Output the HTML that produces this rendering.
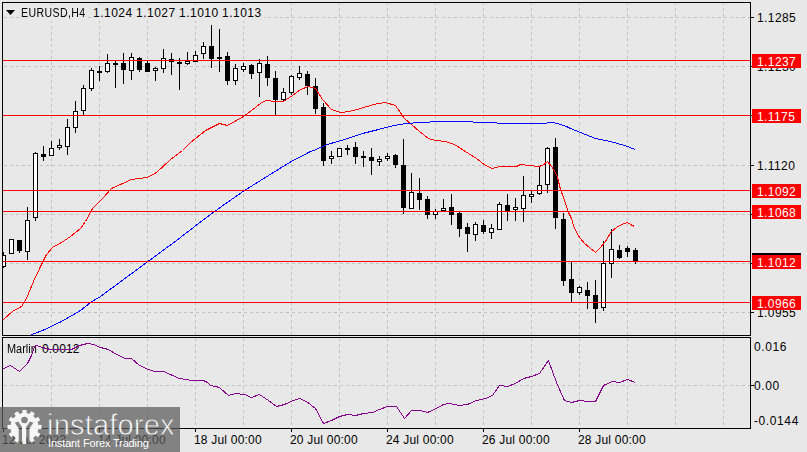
<!DOCTYPE html>
<html><head><meta charset="utf-8"><style>
html,body{margin:0;padding:0;}
body{width:807px;height:452px;overflow:hidden;background:#e8e8e8;position:relative;font-family:"Liberation Sans",sans-serif;}
svg.main{position:absolute;left:0;top:0;}
.ax{position:absolute;left:757px;font-size:12px;line-height:14px;letter-spacing:0.4px;margin-top:1px;color:#000;white-space:nowrap;}
.rl{position:absolute;left:752px;width:49px;height:14px;background:#ff0000;color:#fff;font-size:12px;line-height:15px;letter-spacing:0.4px;text-indent:5px;padding-top:1px;height:13px;white-space:nowrap;}
.tl{position:absolute;top:433px;font-size:12px;line-height:14px;letter-spacing:0.2px;color:#000;white-space:nowrap;}
.hdr{position:absolute;left:21px;top:6px;font-size:12px;line-height:14px;letter-spacing:0.5px;background:#e8e8e8;padding-bottom:1px;padding-right:2px;color:#000;white-space:nowrap;}
.mar{position:absolute;left:7px;top:342px;font-size:12px;line-height:14px;background:#e8e8e8;color:#000;white-space:nowrap;}
#logo{position:absolute;left:0;top:407px;width:180px;height:45px;background:rgba(90,90,90,0.72);}
#logo svg{position:absolute;left:0;top:0;}
.lt1{position:absolute;left:47px;top:2px;font-size:29px;line-height:32px;color:#fff;letter-spacing:0.2px;-webkit-text-stroke:0.8px #828282;white-space:nowrap;}
.lt2{position:absolute;left:48px;top:30px;font-size:11px;letter-spacing:-0.15px;line-height:13px;color:#fff;white-space:nowrap;}
</style></head><body>
<svg class="main" width="807" height="452" shape-rendering="crispEdges">
<defs><clipPath id="mc"><rect x="3" y="3" width="747" height="332"/></clipPath></defs>
<line x1="51.5" y1="2" x2="51.5" y2="335" stroke="#c2c2c2" stroke-dasharray="3 3"/>
<line x1="51.5" y1="338" x2="51.5" y2="428" stroke="#c2c2c2" stroke-dasharray="3 3"/>
<line x1="99.5" y1="2" x2="99.5" y2="335" stroke="#c2c2c2" stroke-dasharray="3 3"/>
<line x1="99.5" y1="338" x2="99.5" y2="428" stroke="#c2c2c2" stroke-dasharray="3 3"/>
<line x1="147.5" y1="2" x2="147.5" y2="335" stroke="#c2c2c2" stroke-dasharray="3 3"/>
<line x1="147.5" y1="338" x2="147.5" y2="428" stroke="#c2c2c2" stroke-dasharray="3 3"/>
<line x1="195.5" y1="2" x2="195.5" y2="335" stroke="#c2c2c2" stroke-dasharray="3 3"/>
<line x1="195.5" y1="338" x2="195.5" y2="428" stroke="#c2c2c2" stroke-dasharray="3 3"/>
<line x1="243.5" y1="2" x2="243.5" y2="335" stroke="#c2c2c2" stroke-dasharray="3 3"/>
<line x1="243.5" y1="338" x2="243.5" y2="428" stroke="#c2c2c2" stroke-dasharray="3 3"/>
<line x1="291.5" y1="2" x2="291.5" y2="335" stroke="#c2c2c2" stroke-dasharray="3 3"/>
<line x1="291.5" y1="338" x2="291.5" y2="428" stroke="#c2c2c2" stroke-dasharray="3 3"/>
<line x1="339.5" y1="2" x2="339.5" y2="335" stroke="#c2c2c2" stroke-dasharray="3 3"/>
<line x1="339.5" y1="338" x2="339.5" y2="428" stroke="#c2c2c2" stroke-dasharray="3 3"/>
<line x1="387.5" y1="2" x2="387.5" y2="335" stroke="#c2c2c2" stroke-dasharray="3 3"/>
<line x1="387.5" y1="338" x2="387.5" y2="428" stroke="#c2c2c2" stroke-dasharray="3 3"/>
<line x1="435.5" y1="2" x2="435.5" y2="335" stroke="#c2c2c2" stroke-dasharray="3 3"/>
<line x1="435.5" y1="338" x2="435.5" y2="428" stroke="#c2c2c2" stroke-dasharray="3 3"/>
<line x1="483.5" y1="2" x2="483.5" y2="335" stroke="#c2c2c2" stroke-dasharray="3 3"/>
<line x1="483.5" y1="338" x2="483.5" y2="428" stroke="#c2c2c2" stroke-dasharray="3 3"/>
<line x1="531.5" y1="2" x2="531.5" y2="335" stroke="#c2c2c2" stroke-dasharray="3 3"/>
<line x1="531.5" y1="338" x2="531.5" y2="428" stroke="#c2c2c2" stroke-dasharray="3 3"/>
<line x1="579.5" y1="2" x2="579.5" y2="335" stroke="#c2c2c2" stroke-dasharray="3 3"/>
<line x1="579.5" y1="338" x2="579.5" y2="428" stroke="#c2c2c2" stroke-dasharray="3 3"/>
<line x1="627.5" y1="2" x2="627.5" y2="335" stroke="#c2c2c2" stroke-dasharray="3 3"/>
<line x1="627.5" y1="338" x2="627.5" y2="428" stroke="#c2c2c2" stroke-dasharray="3 3"/>
<line x1="675.5" y1="2" x2="675.5" y2="335" stroke="#c2c2c2" stroke-dasharray="3 3"/>
<line x1="675.5" y1="338" x2="675.5" y2="428" stroke="#c2c2c2" stroke-dasharray="3 3"/>
<line x1="723.5" y1="2" x2="723.5" y2="335" stroke="#c2c2c2" stroke-dasharray="3 3"/>
<line x1="723.5" y1="338" x2="723.5" y2="428" stroke="#c2c2c2" stroke-dasharray="3 3"/>
<line x1="4" y1="17.5" x2="750" y2="17.5" stroke="#c2c2c2" stroke-dasharray="3 3"/>
<line x1="4" y1="66.5" x2="750" y2="66.5" stroke="#c2c2c2" stroke-dasharray="3 3"/>
<line x1="4" y1="115.5" x2="750" y2="115.5" stroke="#c2c2c2" stroke-dasharray="3 3"/>
<line x1="4" y1="165.5" x2="750" y2="165.5" stroke="#c2c2c2" stroke-dasharray="3 3"/>
<line x1="4" y1="214.5" x2="750" y2="214.5" stroke="#c2c2c2" stroke-dasharray="3 3"/>
<line x1="4" y1="263.5" x2="750" y2="263.5" stroke="#c2c2c2" stroke-dasharray="3 3"/>
<line x1="4" y1="312.5" x2="750" y2="312.5" stroke="#c2c2c2" stroke-dasharray="3 3"/>
<line x1="4" y1="385.5" x2="750" y2="385.5" stroke="#c2c2c2" stroke-dasharray="3 3"/>
<g clip-path="url(#mc)"><rect x="3" y="252" width="1" height="16" fill="#000"/><rect x="1" y="255" width="5" height="12" fill="#000"/><rect x="2" y="256" width="3" height="10" fill="#fff"/><rect x="11" y="239" width="1" height="15" fill="#000"/><rect x="9" y="239" width="5" height="15" fill="#000"/><rect x="10" y="240" width="3" height="13" fill="#fff"/><rect x="19" y="240" width="1" height="13" fill="#000"/><rect x="17" y="240" width="5" height="11" fill="#000"/><rect x="27" y="207" width="1" height="53" fill="#000"/><rect x="25" y="220" width="5" height="32" fill="#000"/><rect x="26" y="221" width="3" height="30" fill="#fff"/><rect x="35" y="152" width="1" height="69" fill="#000"/><rect x="33" y="153" width="5" height="65" fill="#000"/><rect x="34" y="154" width="3" height="63" fill="#fff"/><rect x="43" y="146" width="1" height="15" fill="#000"/><rect x="41" y="154" width="5" height="3" fill="#000"/><rect x="51" y="141" width="1" height="15" fill="#000"/><rect x="49" y="148" width="5" height="8" fill="#000"/><rect x="50" y="149" width="3" height="6" fill="#fff"/><rect x="59" y="139" width="1" height="11" fill="#000"/><rect x="57" y="145" width="5" height="3" fill="#000"/><rect x="58" y="146" width="3" height="1" fill="#fff"/><rect x="67" y="119" width="1" height="36" fill="#000"/><rect x="65" y="127" width="5" height="20" fill="#000"/><rect x="66" y="128" width="3" height="18" fill="#fff"/><rect x="75" y="101" width="1" height="32" fill="#000"/><rect x="73" y="111" width="5" height="17" fill="#000"/><rect x="74" y="112" width="3" height="15" fill="#fff"/><rect x="83" y="85" width="1" height="30" fill="#000"/><rect x="81" y="88" width="5" height="23" fill="#000"/><rect x="82" y="89" width="3" height="21" fill="#fff"/><rect x="91" y="68" width="1" height="23" fill="#000"/><rect x="89" y="70" width="5" height="19" fill="#000"/><rect x="90" y="71" width="3" height="17" fill="#fff"/><rect x="99" y="66" width="1" height="15" fill="#000"/><rect x="97" y="71" width="5" height="2" fill="#000"/><rect x="107" y="54" width="1" height="19" fill="#000"/><rect x="105" y="63" width="5" height="9" fill="#000"/><rect x="106" y="64" width="3" height="7" fill="#fff"/><rect x="115" y="61" width="1" height="27" fill="#000"/><rect x="113" y="63" width="5" height="2" fill="#000"/><rect x="123" y="53" width="1" height="31" fill="#000"/><rect x="121" y="63" width="5" height="7" fill="#000"/><rect x="131" y="53" width="1" height="27" fill="#000"/><rect x="129" y="57" width="5" height="14" fill="#000"/><rect x="130" y="58" width="3" height="12" fill="#fff"/><rect x="139" y="57" width="1" height="15" fill="#000"/><rect x="137" y="58" width="5" height="12" fill="#000"/><rect x="147" y="61" width="1" height="11" fill="#000"/><rect x="145" y="63" width="5" height="9" fill="#000"/><rect x="155" y="67" width="1" height="14" fill="#000"/><rect x="153" y="68" width="5" height="3" fill="#000"/><rect x="154" y="69" width="3" height="1" fill="#fff"/><rect x="163" y="49" width="1" height="24" fill="#000"/><rect x="161" y="58" width="5" height="11" fill="#000"/><rect x="162" y="59" width="3" height="9" fill="#fff"/><rect x="171" y="53" width="1" height="22" fill="#000"/><rect x="169" y="59" width="5" height="3" fill="#000"/><rect x="179" y="58" width="1" height="32" fill="#000"/><rect x="177" y="62" width="5" height="2" fill="#000"/><rect x="187" y="52" width="1" height="13" fill="#000"/><rect x="185" y="61" width="5" height="3" fill="#000"/><rect x="186" y="62" width="3" height="1" fill="#fff"/><rect x="195" y="51" width="1" height="11" fill="#000"/><rect x="193" y="55" width="5" height="7" fill="#000"/><rect x="194" y="56" width="3" height="5" fill="#fff"/><rect x="203" y="42" width="1" height="17" fill="#000"/><rect x="201" y="46" width="5" height="8" fill="#000"/><rect x="202" y="47" width="3" height="6" fill="#fff"/><rect x="211" y="25" width="1" height="43" fill="#000"/><rect x="209" y="46" width="5" height="13" fill="#000"/><rect x="219" y="29" width="1" height="43" fill="#000"/><rect x="217" y="57" width="5" height="2" fill="#000"/><rect x="227" y="52" width="1" height="33" fill="#000"/><rect x="225" y="56" width="5" height="25" fill="#000"/><rect x="235" y="64" width="1" height="21" fill="#000"/><rect x="233" y="68" width="5" height="13" fill="#000"/><rect x="234" y="69" width="3" height="11" fill="#fff"/><rect x="243" y="63" width="1" height="9" fill="#000"/><rect x="241" y="66" width="5" height="4" fill="#000"/><rect x="242" y="67" width="3" height="2" fill="#fff"/><rect x="251" y="64" width="1" height="15" fill="#000"/><rect x="249" y="65" width="5" height="9" fill="#000"/><rect x="259" y="59" width="1" height="38" fill="#000"/><rect x="257" y="63" width="5" height="10" fill="#000"/><rect x="258" y="64" width="3" height="8" fill="#fff"/><rect x="267" y="56" width="1" height="30" fill="#000"/><rect x="265" y="64" width="5" height="14" fill="#000"/><rect x="275" y="71" width="1" height="44" fill="#000"/><rect x="273" y="78" width="5" height="22" fill="#000"/><rect x="283" y="88" width="1" height="14" fill="#000"/><rect x="281" y="92" width="5" height="8" fill="#000"/><rect x="282" y="93" width="3" height="6" fill="#fff"/><rect x="291" y="75" width="1" height="20" fill="#000"/><rect x="289" y="76" width="5" height="17" fill="#000"/><rect x="290" y="77" width="3" height="15" fill="#fff"/><rect x="299" y="66" width="1" height="14" fill="#000"/><rect x="297" y="73" width="5" height="5" fill="#000"/><rect x="298" y="74" width="3" height="3" fill="#fff"/><rect x="307" y="71" width="1" height="24" fill="#000"/><rect x="305" y="74" width="5" height="12" fill="#000"/><rect x="315" y="78" width="1" height="36" fill="#000"/><rect x="313" y="86" width="5" height="23" fill="#000"/><rect x="323" y="103" width="1" height="63" fill="#000"/><rect x="321" y="107" width="5" height="54" fill="#000"/><rect x="331" y="151" width="1" height="13" fill="#000"/><rect x="329" y="156" width="5" height="3" fill="#000"/><rect x="330" y="157" width="3" height="1" fill="#fff"/><rect x="339" y="148" width="1" height="9" fill="#000"/><rect x="337" y="148" width="5" height="9" fill="#000"/><rect x="338" y="149" width="3" height="7" fill="#fff"/><rect x="347" y="145" width="1" height="10" fill="#000"/><rect x="345" y="148" width="5" height="2" fill="#000"/><rect x="355" y="142" width="1" height="22" fill="#000"/><rect x="353" y="147" width="5" height="10" fill="#000"/><rect x="363" y="151" width="1" height="16" fill="#000"/><rect x="361" y="156" width="5" height="2" fill="#000"/><rect x="371" y="148" width="1" height="27" fill="#000"/><rect x="369" y="157" width="5" height="4" fill="#000"/><rect x="379" y="156" width="1" height="10" fill="#000"/><rect x="377" y="159" width="5" height="3" fill="#000"/><rect x="378" y="160" width="3" height="1" fill="#fff"/><rect x="387" y="153" width="1" height="8" fill="#000"/><rect x="385" y="156" width="5" height="3" fill="#000"/><rect x="386" y="157" width="3" height="1" fill="#fff"/><rect x="395" y="154" width="1" height="14" fill="#000"/><rect x="393" y="155" width="5" height="10" fill="#000"/><rect x="403" y="139" width="1" height="75" fill="#000"/><rect x="401" y="165" width="5" height="43" fill="#000"/><rect x="411" y="173" width="1" height="36" fill="#000"/><rect x="409" y="192" width="5" height="17" fill="#000"/><rect x="410" y="193" width="3" height="15" fill="#fff"/><rect x="419" y="178" width="1" height="32" fill="#000"/><rect x="417" y="193" width="5" height="7" fill="#000"/><rect x="427" y="196" width="1" height="23" fill="#000"/><rect x="425" y="199" width="5" height="16" fill="#000"/><rect x="435" y="209" width="1" height="10" fill="#000"/><rect x="433" y="211" width="5" height="4" fill="#000"/><rect x="434" y="212" width="3" height="2" fill="#fff"/><rect x="443" y="199" width="1" height="12" fill="#000"/><rect x="441" y="208" width="5" height="3" fill="#000"/><rect x="442" y="209" width="3" height="1" fill="#fff"/><rect x="451" y="194" width="1" height="31" fill="#000"/><rect x="449" y="207" width="5" height="8" fill="#000"/><rect x="459" y="212" width="1" height="25" fill="#000"/><rect x="457" y="213" width="5" height="16" fill="#000"/><rect x="467" y="223" width="1" height="29" fill="#000"/><rect x="465" y="227" width="5" height="7" fill="#000"/><rect x="475" y="222" width="1" height="19" fill="#000"/><rect x="473" y="224" width="5" height="11" fill="#000"/><rect x="474" y="225" width="3" height="9" fill="#fff"/><rect x="483" y="220" width="1" height="14" fill="#000"/><rect x="481" y="225" width="5" height="7" fill="#000"/><rect x="491" y="224" width="1" height="15" fill="#000"/><rect x="489" y="228" width="5" height="5" fill="#000"/><rect x="490" y="229" width="3" height="3" fill="#fff"/><rect x="499" y="202" width="1" height="28" fill="#000"/><rect x="497" y="204" width="5" height="26" fill="#000"/><rect x="498" y="205" width="3" height="24" fill="#fff"/><rect x="507" y="194" width="1" height="27" fill="#000"/><rect x="505" y="205" width="5" height="6" fill="#000"/><rect x="515" y="198" width="1" height="23" fill="#000"/><rect x="513" y="207" width="5" height="3" fill="#000"/><rect x="514" y="208" width="3" height="1" fill="#fff"/><rect x="523" y="176" width="1" height="46" fill="#000"/><rect x="521" y="195" width="5" height="14" fill="#000"/><rect x="522" y="196" width="3" height="12" fill="#fff"/><rect x="531" y="191" width="1" height="12" fill="#000"/><rect x="529" y="194" width="5" height="3" fill="#000"/><rect x="530" y="195" width="3" height="1" fill="#fff"/><rect x="539" y="166" width="1" height="29" fill="#000"/><rect x="537" y="185" width="5" height="9" fill="#000"/><rect x="538" y="186" width="3" height="7" fill="#fff"/><rect x="547" y="147" width="1" height="46" fill="#000"/><rect x="545" y="148" width="5" height="37" fill="#000"/><rect x="546" y="149" width="3" height="35" fill="#fff"/><rect x="555" y="138" width="1" height="91" fill="#000"/><rect x="553" y="147" width="5" height="71" fill="#000"/><rect x="563" y="213" width="1" height="73" fill="#000"/><rect x="561" y="219" width="5" height="62" fill="#000"/><rect x="571" y="262" width="1" height="40" fill="#000"/><rect x="569" y="279" width="5" height="14" fill="#000"/><rect x="579" y="286" width="1" height="9" fill="#000"/><rect x="577" y="287" width="5" height="6" fill="#000"/><rect x="578" y="288" width="3" height="4" fill="#fff"/><rect x="587" y="282" width="1" height="27" fill="#000"/><rect x="585" y="290" width="5" height="6" fill="#000"/><rect x="595" y="280" width="1" height="43" fill="#000"/><rect x="593" y="295" width="5" height="14" fill="#000"/><rect x="603" y="241" width="1" height="70" fill="#000"/><rect x="601" y="263" width="5" height="45" fill="#000"/><rect x="602" y="264" width="3" height="43" fill="#fff"/><rect x="611" y="229" width="1" height="49" fill="#000"/><rect x="609" y="249" width="5" height="15" fill="#000"/><rect x="610" y="250" width="3" height="13" fill="#fff"/><rect x="619" y="245" width="1" height="14" fill="#000"/><rect x="617" y="250" width="5" height="8" fill="#000"/><rect x="627" y="246" width="1" height="11" fill="#000"/><rect x="625" y="248" width="5" height="4" fill="#000"/><rect x="635" y="248" width="1" height="16" fill="#000"/><rect x="633" y="250" width="5" height="11" fill="#000"/></g>
<polyline points="3.5,319.5 12.5,311.5 21.5,306.5 26.5,298.5 33.5,281.5 40.5,266.5 46.5,254.5 52.5,247.5 61.5,242.5 70.5,236.5 80.5,228.5 85.5,221.5 92.5,208.5 102.5,198.5 111.5,188.5 120.5,184.5 131.5,179.5 147.5,177.5 156.5,172.5 170.5,159.5 182.5,150.5 190.5,142.5 205.5,130.5 219.5,123.5 227.5,125.5 243.5,116.5 255.5,107.5 261.5,102.5 266.5,100.5 274.5,101.5 283.5,101.5 292.5,95.5 300.5,89.5 308.5,86.5 315.5,88.5 322.5,99.5 331.5,109.5 340.5,112.5 349.5,111.5 360.5,108.5 373.5,104.5 385.5,102.5 395.5,105.5 404.5,118.5 411.5,124.5 419.5,131.5 428.5,138.5 435.5,140.5 445.5,141.5 454.5,144.5 468.5,153.5 476.5,158.5 485.5,165.5 492.5,168.5 499.5,166.5 516.5,166.5 520.5,164.5 529.5,165.5 538.5,166.5 542.5,165.5 547.5,161.5 551.5,166.5 555.5,172.5 557.5,177.5 560.5,189.5 563.5,197.5 568.5,212.5 571.5,218.5 573.5,225.5 577.5,234.5 580.5,238.5 584.5,243.5 589.5,247.5 595.5,252.5 600.5,247.5 605.5,241.5 611.5,231.5 616.5,227.5 621.5,224.5 627.5,222.5 630.5,224.5 634.5,226.5" fill="none" stroke="#ff0000"/>
<polyline points="29.5,335.5 42.5,330.5 61.5,321.5 80.5,310.5 90.5,302.5 100.5,296.5 176.5,240.5 202.5,220.5 221.5,206.5 244.5,190.5 268.5,175.5 289.5,162.5 310.5,151.5 313.5,150.5 327.5,144.5 344.5,139.5 362.5,133.5 378.5,129.5 393.5,125.5 406.5,123.5 420.5,122.5 439.5,121.5 463.5,121.5 481.5,122.5 512.5,123.5 530.5,123.5 543.5,123.5 551.5,122.5 557.5,123.5 566.5,126.5 570.5,128.5 580.5,132.5 595.5,138.5 610.5,141.5 624.5,145.5 635.5,149.5" fill="none" stroke="#0000ff"/>
<line x1="3" y1="60.5" x2="750" y2="60.5" stroke="#ff0000"/>
<line x1="3" y1="115.5" x2="750" y2="115.5" stroke="#ff0000"/>
<line x1="3" y1="190.5" x2="750" y2="190.5" stroke="#ff0000"/>
<line x1="3" y1="211.5" x2="750" y2="211.5" stroke="#ff0000"/>
<line x1="3" y1="261.5" x2="750" y2="261.5" stroke="#ff0000"/>
<line x1="3" y1="302.5" x2="750" y2="302.5" stroke="#ff0000"/>
<rect x="2.5" y="2.5" width="748" height="333" fill="none" stroke="#000"/>
<rect x="2.5" y="337.5" width="748" height="91" fill="none" stroke="#000"/>
<line x1="751" y1="17.5" x2="754" y2="17.5" stroke="#000"/>
<line x1="751" y1="66.5" x2="754" y2="66.5" stroke="#000"/>
<line x1="751" y1="115.5" x2="754" y2="115.5" stroke="#000"/>
<line x1="751" y1="165.5" x2="754" y2="165.5" stroke="#000"/>
<line x1="751" y1="214.5" x2="754" y2="214.5" stroke="#000"/>
<line x1="751" y1="263.5" x2="754" y2="263.5" stroke="#000"/>
<line x1="751" y1="312.5" x2="754" y2="312.5" stroke="#000"/>
<line x1="751" y1="385.5" x2="754" y2="385.5" stroke="#000"/>
<line x1="3.5" y1="429" x2="3.5" y2="432" stroke="#000"/>
<line x1="99.5" y1="429" x2="99.5" y2="432" stroke="#000"/>
<line x1="195.5" y1="429" x2="195.5" y2="432" stroke="#000"/>
<line x1="291.5" y1="429" x2="291.5" y2="432" stroke="#000"/>
<line x1="387.5" y1="429" x2="387.5" y2="432" stroke="#000"/>
<line x1="483.5" y1="429" x2="483.5" y2="432" stroke="#000"/>
<line x1="579.5" y1="429" x2="579.5" y2="432" stroke="#000"/>
<polygon points="6,10 15,10 10.5,15" fill="#000" shape-rendering="auto"/>
</svg>
<div class="hdr" style="left:21px;letter-spacing:0.45px;transform:scaleX(0.88);transform-origin:0 0">EURUSD,H4</div><div class="hdr" style="left:93px">1.1024</div><div class="hdr" style="left:136px">1.1027</div><div class="hdr" style="left:179px">1.1010</div><div class="hdr" style="left:222px">1.1013</div>
<div class="mar" style="left:7px;transform:scaleX(0.91);transform-origin:0 0;padding-right:1px">Marlin</div><div class="mar" style="left:42px;letter-spacing:0.15px">0.0012</div>
<svg class="main" width="807" height="452" shape-rendering="crispEdges"><polyline points="3.5,368.5 10.5,365.5 19.5,371.5 27.5,363.5 31.5,355.5 34.5,346.5 36.5,345.5 42.5,347.5 50.5,349.5 71.5,349.5 79.5,345.5 87.5,343.5 93.5,344.5 100.5,347.5 108.5,349.5 116.5,354.5 125.5,358.5 131.5,358.5 139.5,365.5 148.5,369.5 154.5,371.5 163.5,371.5 179.5,378.5 192.5,380.5 203.5,380.5 207.5,382.5 210.5,385.5 215.5,386.5 219.5,387.5 228.5,395.5 235.5,393.5 244.5,394.5 251.5,397.5 259.5,394.5 268.5,400.5 276.5,406.5 284.5,404.5 293.5,400.5 299.5,398.5 306.5,401.5 315.5,408.5 323.5,423.5 331.5,420.5 339.5,416.5 347.5,414.5 355.5,415.5 363.5,413.5 372.5,412.5 379.5,409.5 387.5,406.5 396.5,406.5 404.5,418.5 411.5,410.5 420.5,410.5 427.5,412.5 436.5,408.5 443.5,404.5 449.5,403.5 459.5,405.5 467.5,404.5 476.5,400.5 485.5,398.5 492.5,395.5 499.5,385.5 507.5,386.5 515.5,383.5 523.5,378.5 531.5,376.5 539.5,373.5 548.5,360.5 556.5,382.5 564.5,400.5 571.5,402.5 579.5,400.5 587.5,401.5 595.5,401.5 603.5,385.5 612.5,381.5 619.5,382.5 627.5,379.5 635.5,382.5" fill="none" stroke="#86008f"/></svg>
<div class="ax" style="top:10px">1.1285</div>
<div class="ax" style="top:59px">1.1230</div>
<div class="ax" style="top:158px">1.1120</div>
<div class="ax" style="top:305px">1.0955</div>
<div style="position:absolute;left:752px;top:253px;width:49px;height:2px;background:#000"></div>
<div class="rl" style="top:54px">1.1237</div>
<div class="rl" style="top:109px">1.1175</div>
<div class="rl" style="top:184px">1.1092</div>
<div class="rl" style="top:205px">1.1068</div>
<div class="rl" style="top:255px">1.1012</div>
<div class="rl" style="top:296px">1.0966</div>
<div class="ax" style="top:339px;left:754px;letter-spacing:0.6px">0.016</div>
<div class="ax" style="top:378px;left:754px;letter-spacing:0.6px">0.00</div>
<div class="ax" style="top:413px;left:754px;letter-spacing:0.6px">-0.0144</div>
<div class="tl" style="left:2px">12 Jul 2023</div>
<div class="tl" style="left:98px">14 Jul 00:00</div>
<div class="tl" style="left:194px">18 Jul 00:00</div>
<div class="tl" style="left:290px">20 Jul 00:00</div>
<div class="tl" style="left:386px">24 Jul 00:00</div>
<div class="tl" style="left:482px">26 Jul 00:00</div>
<div class="tl" style="left:578px">28 Jul 00:00</div>
<div id="logo"><svg width="180" height="45" viewBox="0 0 180 45">
<defs><mask id="gm"><rect x="0" y="0" width="60" height="45" fill="#fff"/>
<circle cx="24.5" cy="13" r="3.3" fill="#000"/>
<path d="M14.8 15.8 L18.2 14.4 L22 19.9 L22 40 L18.7 40 L18.7 21.4 Z" fill="#000"/>
<path d="M33.4 15.8 L30 14.4 L26.2 19.9 L26.2 40 L29.5 40 L29.5 21.4 Z" fill="#000"/>
</mask></defs>
<g fill="#fff" opacity="0.93" mask="url(#gm)">
<circle cx="24.5" cy="20" r="14"/>
<rect x="22.4" y="3" width="4.2" height="5" transform="rotate(0 24.5 20)"/><rect x="22.4" y="3" width="4.2" height="5" transform="rotate(30 24.5 20)"/><rect x="22.4" y="3" width="4.2" height="5" transform="rotate(60 24.5 20)"/><rect x="22.4" y="3" width="4.2" height="5" transform="rotate(90 24.5 20)"/><rect x="22.4" y="3" width="4.2" height="5" transform="rotate(120 24.5 20)"/><rect x="22.4" y="3" width="4.2" height="5" transform="rotate(150 24.5 20)"/><rect x="22.4" y="3" width="4.2" height="5" transform="rotate(180 24.5 20)"/><rect x="22.4" y="3" width="4.2" height="5" transform="rotate(210 24.5 20)"/><rect x="22.4" y="3" width="4.2" height="5" transform="rotate(240 24.5 20)"/><rect x="22.4" y="3" width="4.2" height="5" transform="rotate(270 24.5 20)"/><rect x="22.4" y="3" width="4.2" height="5" transform="rotate(300 24.5 20)"/><rect x="22.4" y="3" width="4.2" height="5" transform="rotate(330 24.5 20)"/>
</g>
</svg>
<div class="lt1">instaforex</div><div class="lt2">Instant Forex Trading</div></div>
</body></html>
